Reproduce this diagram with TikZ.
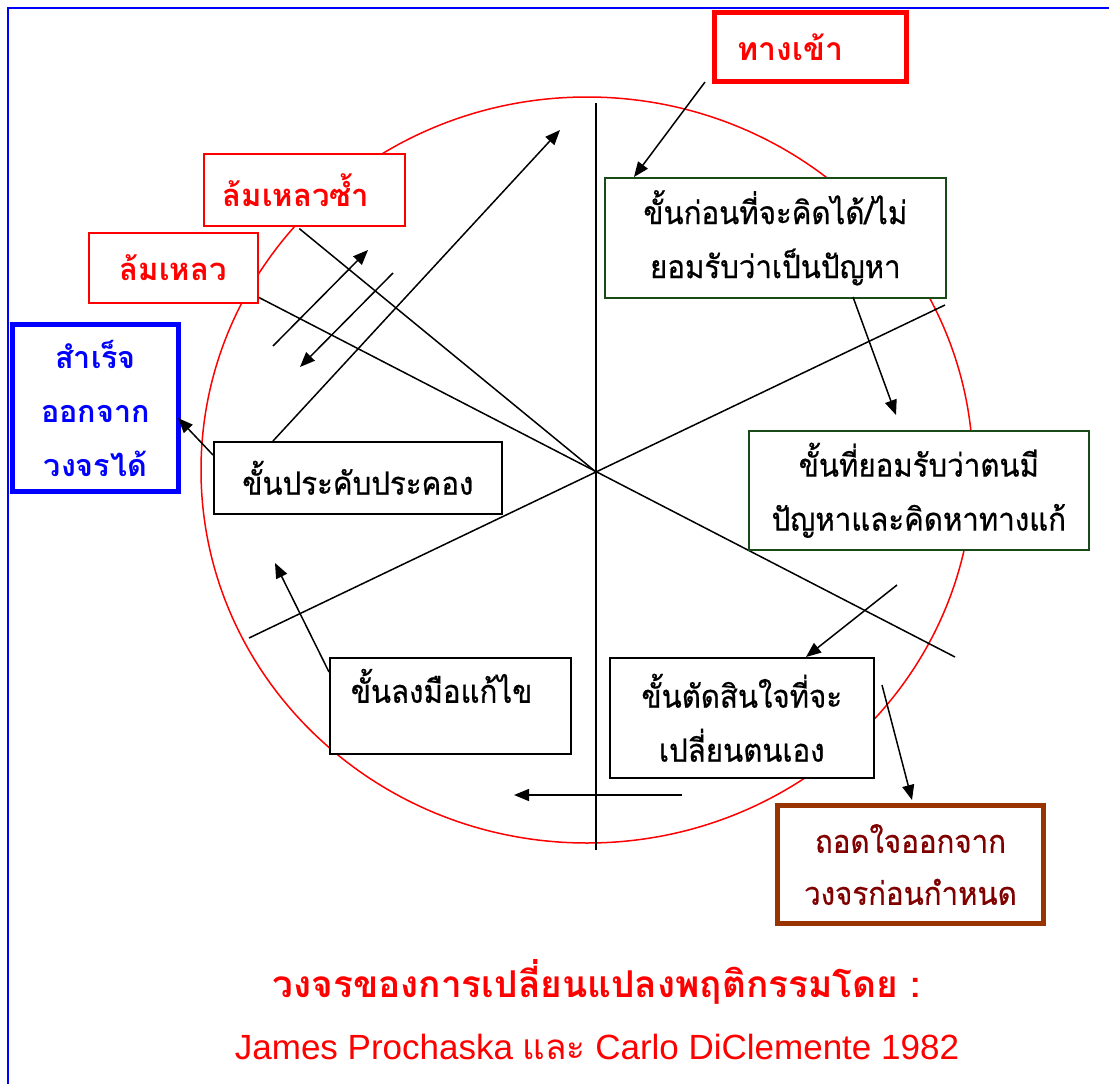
\documentclass[tikz,border=0pt]{standalone}
\usepackage{fontspec}
\newfontfamily\thai[Script=Thai]{Loma}
\newfontfamily\thaibox[Script=Thai,FakeStretch=0.92,FakeBold=0.6]{Loma}
\newfontfamily\arial{Liberation Sans}
\usetikzlibrary{arrows.meta,calc}
\definecolor{pured}{RGB}{255,0,0}
\definecolor{dkgreen}{RGB}{25,75,25}
\definecolor{brown}{RGB}{153,51,0}
\definecolor{maroon}{RGB}{128,0,0}
\definecolor{pblue}{RGB}{0,0,255}
\begin{document}
\begin{tikzpicture}[x=1pt,y=-1pt,
  arr/.style={-{Triangle[length=15pt,width=12pt]}, line width=1.5pt},
  spoke/.style={line width=1.5pt},
  stage/.style={draw, line width=1.6pt, fill=white, align=center, inner sep=0pt,
    anchor=north west, font=\thaibox\fontsize{32}{54}\selectfont},
  failbox/.style={draw=pured, line width=1.6pt, fill=white, inner sep=0pt,
    anchor=north west, text=pured, font=\thai\bfseries\fontsize{31}{54}\selectfont},
  thickbox/.style={line width=5pt, fill=white, inner sep=0pt, align=center,
    anchor=north west, font=\thaibox\fontsize{32}{52}\selectfont}
]
\useasboundingbox (0,0) rectangle (1109,1084);
% frame
\draw[pblue, line width=2pt] (1109,8) -- (8,8) -- (8,1084);
% circle
\draw[pured, line width=1.5pt] (587,470) ellipse [x radius=386, y radius=373];
% spokes
\coordinate (vtop) at (596,103);
\coordinate (vbot) at (596,850);
\coordinate (c) at (596,472);
\coordinate (l1a) at (945,305);
\coordinate (l1b) at (249,638);
\coordinate (l2a) at (258,297);
\coordinate (l2b) at (955,657);
\draw[spoke] (vtop) -- (vbot);
\draw[spoke] (l1a) -- (l1b);
\draw[spoke] (l2a) -- (l2b);
% boxes
\node[stage, draw=dkgreen, minimum width=341, minimum height=120] (b1) at (604,177)
  {ขั้นก่อนที่จะคิดได้/ไม่\\ยอมรับว่าเป็นปัญหา};
\node[stage, draw=dkgreen, minimum width=340, minimum height=119] (b2) at (748,430)
  {ขั้นที่ยอมรับว่าตนมี\\ปัญหาและคิดหาทางแก้};
\node[stage, minimum width=264, minimum height=120] (b3) at (609,657)
  {ขั้นตัดสินใจที่จะ\\เปลี่ยนตนเอง};
\node[stage, minimum width=241, minimum height=96, text depth=40pt, align=left,
  text width=199] (b4) at (329,657)
  {ขั้นลงมือแก้ไข};
\node[stage, minimum width=288, minimum height=72] (b5) at (213,441)
  {ขั้นประคับประคอง};
\node[failbox, minimum width=201, minimum height=72, align=left, text width=163] (f2) at (203,153) {ล้มเหลวซ้ำ};
\node[failbox, minimum width=169, minimum height=70] (f1) at (88,232) {ล้มเหลว};
\node[thickbox, draw=pured, text=pured, font=\thai\bfseries\fontsize{32}{52}\selectfont,
  minimum width=192, minimum height=69, align=left, text width=146] (in) at (712,10) {ทางเข้า};
\node[thickbox, draw=pblue, text=pblue, font=\thai\bfseries\fontsize{30.5}{54}\selectfont,
  minimum width=166, minimum height=167] (ok) at (10,322) {สำเร็จ\\ออกจาก\\วงจรได้};
\node[thickbox, draw=brown, text=maroon, minimum width=266, minimum height=118] (q) at (775,803)
  {ถอดใจออกจาก\\วงจรก่อนกำหนด};
% spoke from failure box to centre
\draw[spoke] ($(f2.south)+(-5,2)$) -- (c);
% arrow endpoints
\coordinate (a1s) at (705,82);   \coordinate (a1e) at (634,177);
\coordinate (a2s) at (853,297);  \coordinate (a2e) at (896,415);
\coordinate (a3s) at (897,585);  \coordinate (a3e) at (806,657);
\coordinate (a4s) at (882,685);  \coordinate (a4e) at (912,800);
\coordinate (a5s) at (682,795);  \coordinate (a5e) at (514,795);
\coordinate (a6s) at (329,672);  \coordinate (a6e) at (275,563);
\coordinate (a7s) at (213,455);  \coordinate (a7e) at (178,418);
\coordinate (a8s) at (273,441);  \coordinate (a8e) at (560,130);
\coordinate (a9s) at (273,346);  \coordinate (a9e) at (368,250);
\coordinate (a10s) at (393,273); \coordinate (a10e) at (300,367);
\foreach \i in {1,...,10} \draw[arr] (a\i s) -- (a\i e);
% title
\node[text=pured, font=\thai\bfseries\fontsize{37}{40}\selectfont] (t1) at (597,982)
  {วงจรของการเปลี่ยนแปลงพฤติกรรมโดย :};
\node[text=pured, font=\arial\fontsize{35}{40}\selectfont] (t2) at (597,1047)
  {James Prochaska {\thai และ} Carlo DiClemente 1982};
\end{tikzpicture}
\end{document}
